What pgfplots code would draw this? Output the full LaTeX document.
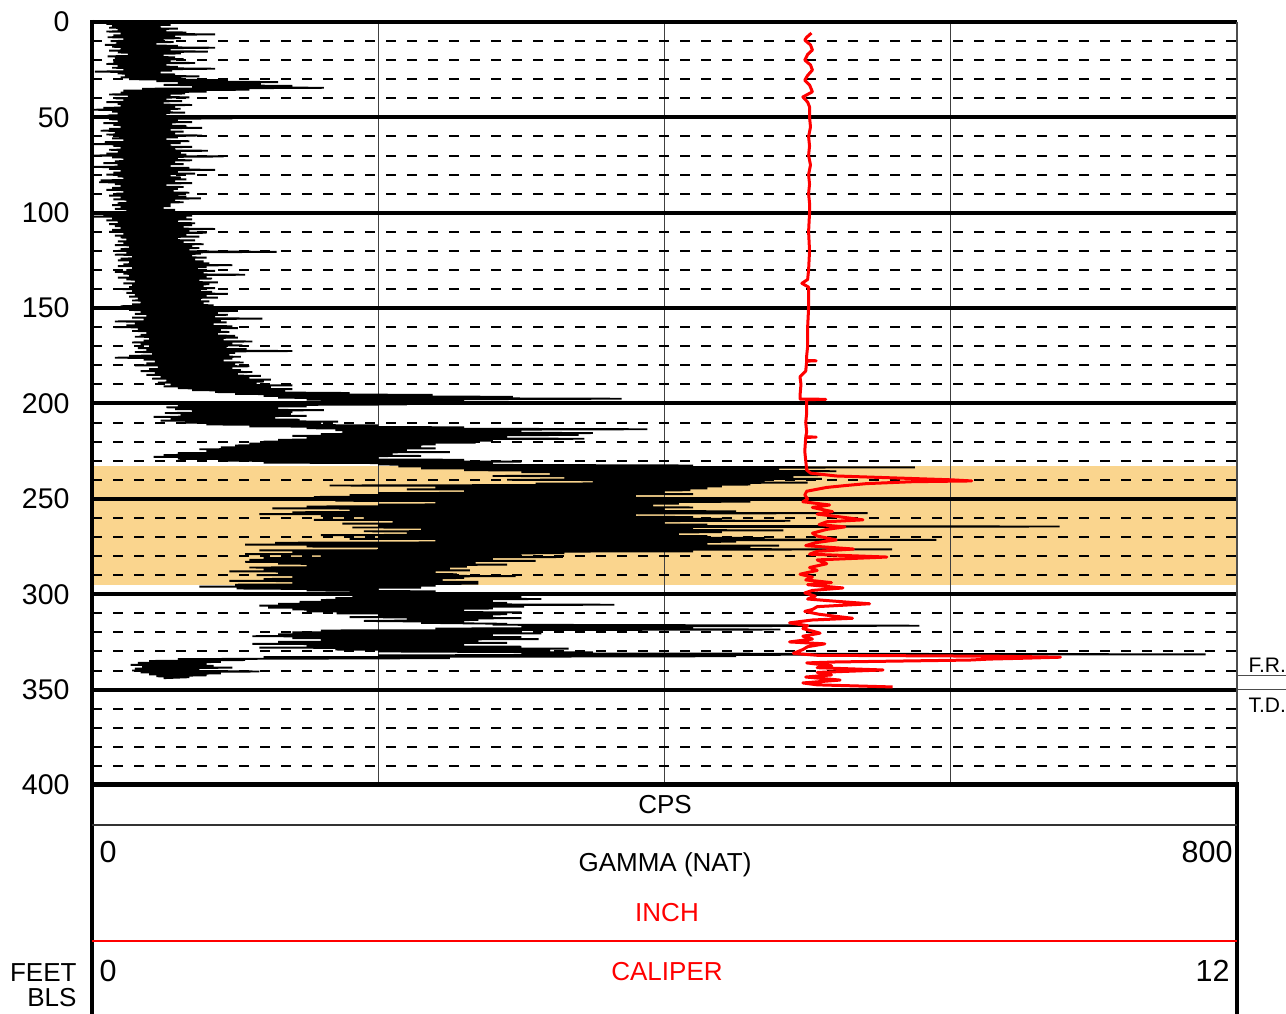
\documentclass[border=0pt]{standalone}
\usepackage{pgfplots}
\pgfplotsset{compat=1.18}
\usepackage{fontspec}
\setmainfont{Liberation Sans}
\definecolor{band}{RGB}{250,213,142}
\begin{document}
\begin{tikzpicture}[x=1pt,y=1pt]
\begin{axis}[
 at={(0,0)}, anchor=south west, scale only axis, width=458pt, height=305.2pt,
 xmin=0,xmax=800,ymin=0,ymax=400,y dir=reverse,
 set layers=standard,
 axis line style={draw=none},
 xtick={200,400,600}, xticklabels={},
 ytick={0,50,...,400}, minor y tick num=4,
 tick style={draw=none},
 xmajorgrids, ymajorgrids, yminorgrids,
 major x grid style={line width=0.4pt, black!75},
 major y grid style={line width=1.6pt, black},
 minor y grid style={line width=0.8pt, black, dash pattern=on 4pt off 4.4pt},
 yticklabel style={font=\fontsize{11.4}{13}\selectfont, anchor=east, inner sep=0pt, xshift=-8.8pt},
 /pgf/number format/assume math mode=true,
]
\begin{pgfonlayer}{axis background}
\fill[band] (axis cs:0,232.8) rectangle (axis cs:800,295.2);
\end{pgfonlayer}
\addplot[black, line width=0.75pt] table[x=g,y=d] {
d g
0 12
0.5 50
1 10
1.5 55
2 14
2.5 48
3 12
3.5 60
4 18
4.5 52
5 10
5.5 66
6 20
6.5 86
7 15
7.5 58
8 11
8.5 62
9 22
9.5 50
10 13
10.5 57
11 17
11.5 45
12 9
12.5 60
13 14
13.5 86
14 20
14.5 55
15 12
15.5 81
16 18
16.5 62
17 25
17.5 50
18 11
18.5 58
19 16
19.5 64
20 20
20.5 55
21 15
21.5 72
22 10
22.5 52
23 18
23.5 60
24 14
24.5 86
25 22
25.5 56
26 2
26.5 48
27 18
27.5 58
28 23
28.5 75
29 20
29.5 62
30 26
30.5 95
31 45
31.5 130
32 60
32.5 118
33 50
33.5 140
34 70
34.5 162
35 35
35.5 110
36 22
36.5 80
37 20
37.5 65
38 12
38.5 55
39 25
39.5 68
40 16
40.5 52
41 22
41.5 63
42 10
42.5 50
43 18
43.5 70
44 20
44.5 58
45 8
45.5 62
46 0
46.5 55
47 14
47.5 65
48 18
48.5 52
49 11
49.5 70
50 20
50.5 98
51 12
51.5 60
52 18
52.5 70
53 8
53.5 56
54 15
54.5 66
55 20
55.5 77
56 12
56.5 55
57 6
57.5 64
58 16
58.5 58
59 10
59.5 77
60 19
60.5 60
61 14
61.5 52
62 22
62.5 68
63 9
63.5 62
64 0
64.5 55
65 15
65.5 70
66 20
66.5 58
67 12
67.5 81
68 18
68.5 62
69 10
69.5 66
70 0
70.5 92
71 14
71.5 60
72 22
72.5 70
73 16
73.5 58
74 8
74.5 64
75 18
75.5 55
76 0
76.5 68
77 12
77.5 86
78 20
78.5 60
79 15
79.5 72
80 10
80.5 55
81 18
81.5 62
82 22
82.5 66
83 6
83.5 58
84 5
84.5 70
85 16
85.5 52
86 20
86.5 64
87 14
87.5 60
88 10
88.5 57
89 22
89.5 68
90 17
90.5 60
91 12
91.5 66
92 20
92.5 76
93 15
93.5 58
94 24
94.5 64
95 18
95.5 55
96 14
96.5 55
97 20
97.5 50
98 16
98.5 58
99 24
99.5 52
100 18
100.5 62
101 8
101.5 70
102 0
102.5 66
103 14
103.5 70
104 10
104.5 60
105 18
105.5 72
106 12
106.5 70
107 16
107.5 64
108 20
108.5 86
109 14
109.5 68
110 12
110.5 80
111 22
111.5 66
112 16
112.5 75
113 20
113.5 60
114 24
114.5 72
115 18
115.5 64
116 22
116.5 78
117 16
117.5 70
118 26
118.5 75
119 20
119.5 68
120 18
120.5 129
121 24
121.5 76
122 16
122.5 70
123 28
123.5 80
124 20
124.5 72
125 18
125.5 78
126 26
126.5 82
127 22
127.5 98
128 18
128.5 80
129 28
129.5 74
130 24
130.5 86
131 16
131.5 78
132 22
132.5 107
133 26
133.5 80
134 18
134.5 84
135 24
135.5 75
136 30
136.5 88
137 22
137.5 82
138 28
138.5 78
139 26
139.5 86
140 20
140.5 76
141 28
141.5 84
142 24
142.5 95
143 30
143.5 80
144 26
144.5 88
145 32
145.5 76
146 28
146.5 82
147 34
147.5 78
148 28
148.5 85
149 20
149.5 80
150 33
150.5 92
151 26
151.5 102
152 34
152.5 88
153 30
153.5 95
154 38
154.5 86
155 28
155.5 119
156 36
156.5 90
157 16
157.5 94
158 30
158.5 85
159 24
159.5 98
160 16
160.5 102
161 32
161.5 90
162 28
162.5 96
163 38
163.5 88
164 34
164.5 100
165 30
165.5 102
166 40
166.5 92
167 36
167.5 112
168 28
168.5 98
169 34
169.5 105
170 40
170.5 94
171 32
171.5 108
172 38
172.5 140
173 30
173.5 100
174 42
174.5 96
175 26
175.5 104
176 16
176.5 98
177 36
177.5 92
178 44
178.5 106
179 38
179.5 100
180 30
180.5 110
181 46
181.5 98
182 40
182.5 104
183 34
183.5 112
184 44
184.5 102
185 38
185.5 118
186 48
186.5 110
187 42
187.5 125
188 52
188.5 120
189 46
189.5 115
190 55
190.5 140
191 50
191.5 125
192 60
192.5 140
193 70
193.5 135
194 86
194.5 180
195 100
195.5 238
196 120
196.5 294
197 130
197.5 370
198 150
198.5 260
199 160
199.5 280
200 140
200.5 220
201 60
201.5 150
202 52
202.5 130
203 58
203.5 162
204 70
204.5 140
205 51
205.5 139
206 62
206.5 150
207 43
207.5 128
208 55
208.5 145
209 48
209.5 172
210 65
210.5 160
211 80
211.5 200
212 110
212.5 260
213 150
213.5 388
214 170
214.5 300
215 175
215.5 350
216 160
216.5 340
217 140
217.5 290
218 150
218.5 344
219 130
219.5 280
220 120
220.5 268
221 110
221.5 240
222 100
222.5 230
223 90
223.5 240
224 75
224.5 220
225 80
225.5 250
226 60
226.5 210
227 50
227.5 230
228 43
228.5 200
229 60
229.5 260
230 90
230.5 300
231 120
231.5 280
232 200
232.5 420
233 214
233.5 575
234 230
234.5 480
235 260
235.5 520
236 300
236.5 505
237 320
237.5 518
238 280
238.5 490
239 330
239.5 510
240 290
240.5 470
241 350
241.5 500
242 310
242.5 460
243 166
243.5 440
244 240
244.5 430
245 220
245.5 418
246 260
246.5 400
247 200
247.5 420
248 180
248.5 380
249 155
249.5 400
250 200
250.5 430
251 170
251.5 460
252 240
252.5 410
253 200
253.5 392
254 150
254.5 420
255 126
255.5 400
256 180
256.5 450
257 140
257.5 542
258 117
258.5 380
259 160
259.5 420
260 190
260.5 440
261 155
261.5 488
262 210
262.5 400
263 175
263.5 430
264 200
264.5 676
265 182
265.5 420
266 230
266.5 483
267 190
267.5 440
268 220
268.5 410
269 160
269.5 430
270 200
270.5 470
271 180
271.5 590
272 240
272.5 450
273 128
273.5 430
274 107
274.5 480
275 150
275.5 460
276 200
276.5 559
277 117
277.5 420
278 140
278.5 330
279 107
279.5 300
280 160
280.5 329
281 120
281.5 280
282 110
282.5 310
283 107
283.5 268
284 130
284.5 290
285 150
285.5 262
286 110
286.5 250
287 120
287.5 264
288 96
288.5 240
289 130
289.5 255
290 115
290.5 296
291 140
291.5 260
292 120
292.5 245
293 96
293.5 270
294 140
294.5 270
295 100
295.5 240
296 75
296.5 230
297 101
297.5 200
298 150
298.5 240
299 180
299.5 200
300 190
300.5 250
301 182
301.5 300
302 170
302.5 314
303 160
303.5 280
304 145
304.5 290
305 130
305.5 365
306 117
306.5 302
307 123
307.5 280
308 140
308.5 260
309 150
309.5 300
310 171
310.5 290
311 200
311.5 280
312 180
312.5 300
313 220
313.5 270
314 190
314.5 260
315 230
315.5 290
316 280
316.5 578
317 300
317.5 420
318 240
318.5 481
319 160
319.5 300
320 140
320.5 314
321 130
321.5 280
322 112
322.5 300
323 140
323.5 312
324 160
324.5 270
325 130
325.5 290
326 112
326.5 260
327 150
327.5 300
328 117
328.5 333
329 170
329.5 320
330 200
330.5 350
331 300
331.5 778
332 200
332.5 450
333 120
333.5 250
334 60
334.5 107
335 40
335.5 90
336 32
336.5 80
337 27
337.5 85
338 35
338.5 98
339 30
339.5 75
340 28
340.5 117
341 34
341.5 90
342 40
342.5 80
343 45
343.5 68
344 50
};
\end{axis}
\begin{axis}[
 at={(0,0)}, anchor=south west, scale only axis, width=458pt, height=305.2pt,
 xmin=0,xmax=12,ymin=0,ymax=400,y dir=reverse, hide axis]
\addplot[red, line width=1.2pt, line join=round] table[x=c,y=d] {
d c
5.8 7.54
8 7.49
9.5 7.47
12 7.53
14.7 7.55
17 7.50
20 7.47
22.5 7.53
25.2 7.55
28 7.50
30.5 7.47
33 7.52
36.6 7.55
39.3 7.45
42 7.50
44.5 7.52
50 7.52
55 7.53
60 7.51
65 7.52
70 7.51
75 7.53
80 7.51
85 7.52
90 7.51
95 7.52
100 7.52
110 7.51
120 7.52
130 7.51
135 7.50
137 7.44
139 7.51
150 7.51
160 7.50
170 7.50
175 7.49
177.5 7.49
177.6 7.59
177.8 7.49
183 7.48
186 7.42
190 7.43
196 7.42
197.7 7.42
197.8 7.69
198 7.49
205 7.49
210 7.48
215 7.49
217.5 7.48
217.6 7.59
217.8 7.48
225 7.47
230 7.48
234.9 7.49
236.5 7.53
238 7.80
239 8.40
240 9.00
240.6 9.22
241 8.60
242 8.12
243 7.90
244 7.70
246 7.49
248 7.47
250 7.50
251.5 7.45
253.2 7.73
254.5 7.55
256.7 7.76
258 7.60
259.5 7.85
261 8.08
262 7.70
263.5 7.62
264.7 7.89
266 7.70
268 7.55
269.5 7.60
271.5 7.80
273 7.58
274.5 7.48
276.3 7.98
277.5 7.60
279 7.52
280.5 8.33
282 7.60
284 7.70
286 7.52
287.5 7.60
289.5 7.42
291 7.55
292.5 7.48
293.9 7.75
295 7.50
296.7 7.87
298 7.55
299.3 7.47
301 7.58
302.5 7.50
303.5 7.75
305 8.15
306.5 7.60
308 7.55
309 7.47
310.5 7.62
312.6 7.97
313.5 7.55
315 7.31
316.5 7.50
318 7.45
320.4 7.63
322 7.45
323.5 7.55
325 7.31
326 7.68
327.5 7.50
329 7.45
331 7.35
332 7.60
332.5 9.50
333 10.15
333.5 9.80
334 9.40
334.5 9.20
335 8.50
335.5 7.80
336 7.49
337.5 7.75
338.5 7.60
339.7 8.29
341 7.60
342.3 7.75
343.4 7.48
345 7.84
346.5 7.45
347.5 7.60
348.6 8.39
};
\end{axis}
% frame
\draw[line width=1.6pt] (0,306) -- (0,-95);
\draw[line width=0.8pt, black!70] (458,305.2) -- (458,0);
\draw[line width=1.6pt] (458,0) -- (458,-95);
\draw[line width=2pt] (-0.8,0) -- (458.8,0);
\draw[line width=0.8pt, black!80] (0,-16) -- (458,-16);
\draw[line width=0.8pt, red] (0,-62.4) -- (458,-62.4);
\draw[line width=0.4pt, black!70] (458,43.6) -- (480,43.6);
\draw[line width=0.4pt, black!70] (458,38) -- (480,38);
% texts
\node[font=\fontsize{10.4}{12}\selectfont, inner sep=0pt] at (229.2,-8) {CPS};
\node[font=\fontsize{12.2}{14}\selectfont, inner sep=0pt] at (6.4,-26.8) {0};
\node[font=\fontsize{12.2}{14}\selectfont, inner sep=0pt, anchor=east] at (456.4,-26.8) {800};
\node[font=\fontsize{10.4}{12}\selectfont, inner sep=0pt] at (229.2,-32) {GAMMA (NAT)};
\node[font=\fontsize{10.4}{12}\selectfont, inner sep=0pt, text=red] at (230,-51.2) {INCH};
\node[font=\fontsize{12.2}{14}\selectfont, inner sep=0pt] at (6.4,-74.4) {0};
\node[font=\fontsize{10.4}{12}\selectfont, inner sep=0pt, text=red] at (230,-74.8) {CALIPER};
\node[font=\fontsize{12.2}{14}\selectfont, inner sep=0pt, anchor=east] at (455.2,-74.4) {12};
\node[font=\fontsize{10.4}{12}\selectfont, inner sep=0pt, anchor=east] at (-6,-75.2) {FEET};
\node[font=\fontsize{10.4}{12}\selectfont, inner sep=0pt, anchor=east] at (-6,-85.2) {BLS};
\node[font=\fontsize{8.4}{10}\selectfont, inner sep=0pt, anchor=west] at (462.4,48) {F.R.};
\node[font=\fontsize{8.4}{10}\selectfont, inner sep=0pt, anchor=west] at (462.4,32) {T.D.};
\pgfresetboundingbox
\useasboundingbox (-36.8,-91.6) rectangle (477.6,314);
\end{tikzpicture}
\end{document}
